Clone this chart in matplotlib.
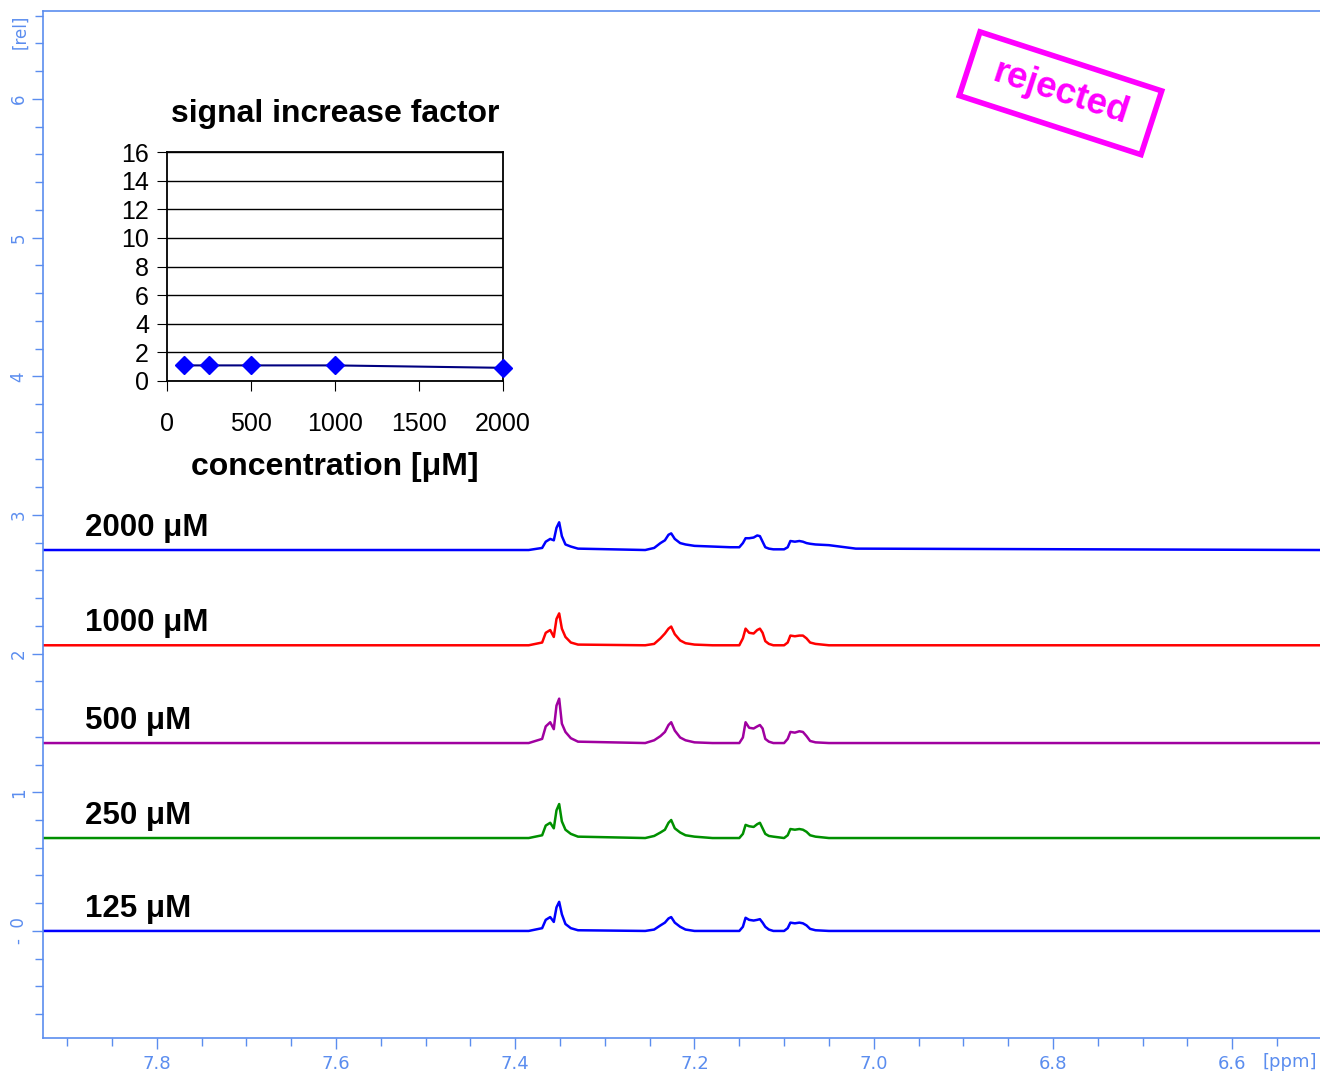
import numpy as np
import matplotlib.pyplot as plt
from matplotlib.patches import Rectangle
from matplotlib.transforms import IdentityTransform
from matplotlib.ticker import MultipleLocator

plt.rcParams['font.family'] = ['Liberation Sans', 'DejaVu Sans']

# --- data ---

# chemical shift grid (ppm), shared by all spectra
ppm = [7.927, 7.385,
       7.370, 7.366, 7.361, 7.357, 7.354, 7.351, 7.348, 7.344, 7.338, 7.330,
       7.255, 7.245, 7.238, 7.233, 7.229, 7.226, 7.222, 7.216, 7.210, 7.200,
       7.180, 7.160,
       7.150, 7.146, 7.143, 7.139, 7.134, 7.130, 7.127, 7.124, 7.121, 7.117, 7.112,
       7.100, 7.096, 7.093, 7.088, 7.083, 7.079, 7.075, 7.071, 7.065, 7.050,
       7.020, 6.502]

# intensities above each baseline
int_125 = [0, 0,
           0.02, 0.08, 0.10, 0.065, 0.17, 0.21, 0.12, 0.05, 0.02, 0.005,
           0, 0.01, 0.04, 0.06, 0.09, 0.10, 0.06, 0.03, 0.01, 0,
           0, 0,
           0, 0.03, 0.095, 0.08, 0.075, 0.08, 0.085, 0.06, 0.03, 0.01, 0,
           0, 0.02, 0.06, 0.055, 0.06, 0.055, 0.04, 0.015, 0.005, 0,
           0, 0]
int_250 = [0, 0,
           0.02, 0.09, 0.11, 0.07, 0.20, 0.245, 0.12, 0.06, 0.03, 0.01,
           0, 0.015, 0.04, 0.06, 0.11, 0.13, 0.07, 0.04, 0.02, 0.01,
           0, 0,
           0, 0.03, 0.095, 0.085, 0.08, 0.10, 0.11, 0.07, 0.03, 0.015, 0.01,
           0, 0.02, 0.065, 0.06, 0.065, 0.06, 0.045, 0.02, 0.01, 0,
           0, 0]
int_500 = [0, 0,
           0.03, 0.12, 0.15, 0.10, 0.27, 0.32, 0.14, 0.08, 0.035, 0.01,
           0, 0.02, 0.05, 0.08, 0.13, 0.15, 0.09, 0.04, 0.02, 0.005,
           0, 0,
           0, 0.04, 0.15, 0.11, 0.105, 0.12, 0.13, 0.105, 0.03, 0.01, 0,
           0, 0.03, 0.08, 0.075, 0.085, 0.08, 0.05, 0.015, 0.005, 0,
           0, 0]
int_1000 = [0, 0,
            0.02, 0.09, 0.11, 0.06, 0.19, 0.23, 0.12, 0.06, 0.02, 0.005,
            0, 0.01, 0.05, 0.085, 0.12, 0.135, 0.08, 0.035, 0.015, 0.005,
            0, 0,
            0, 0.05, 0.12, 0.09, 0.085, 0.11, 0.12, 0.09, 0.03, 0.01, 0,
            0, 0.02, 0.07, 0.065, 0.07, 0.07, 0.05, 0.02, 0.01, 0,
            0, 0]
int_2000 = [0, 0,
            0.015, 0.06, 0.08, 0.07, 0.16, 0.20, 0.10, 0.04, 0.025, 0.01,
            0, 0.015, 0.05, 0.07, 0.11, 0.12, 0.08, 0.05, 0.04, 0.03,
            0.025, 0.02,
            0.02, 0.05, 0.085, 0.085, 0.09, 0.105, 0.10, 0.06, 0.02, 0.01, 0.005,
            0.005, 0.02, 0.065, 0.06, 0.065, 0.06, 0.05, 0.045, 0.04, 0.035,
            0.01, 0]

baselines = [0.0, 0.67, 1.355, 2.06, 2.747]
spec_labels = ['125 μM', '250 μM', '500 μM', '1000 μM', '2000 μM']
spec_colors = ['#0000ff', '#009000', '#a000a0', '#ff0000', '#0000ff']

ytick_vals = [0, 1, 2, 3, 4, 5, 6]
ytick_labels = ['-  0', '1', '2', '3', '4', '5', '6']

# inset: signal increase factor vs concentration
conc = [100, 250, 500, 1000, 2000]
factor = [1.09, 1.09, 1.09, 1.09, 0.92]

axis_blue = '#5b8def'

fig = plt.figure(figsize=(13.2, 10.72), dpi=100)

# main spectrum axes
ax = fig.add_axes([43 / 1320, 34 / 1072, 1 - 43 / 1320, 1027 / 1072])

for vals, off, col, lab in zip([int_125, int_250, int_500, int_1000, int_2000],
                               baselines, spec_colors, spec_labels):
    ax.plot(ppm, np.array(vals) + off, color=col, lw=1.8)
    ax.text(7.88, off + 0.16, lab, fontsize=22.5, fontweight='bold',
            va='center', ha='left')

ax.set_xlim(7.927, 6.502)
ax.set_ylim(-0.772, 6.634)

ax.spines['right'].set_visible(False)
for s in ['left', 'top', 'bottom']:
    ax.spines[s].set_color(axis_blue)
    ax.spines[s].set_linewidth(1.2)

ax.xaxis.set_major_locator(MultipleLocator(0.2))
ax.xaxis.set_minor_locator(MultipleLocator(0.05))
ax.set_yticks(ytick_vals)
ax.set_yticklabels(ytick_labels, rotation=90, va='center')
ax.yaxis.set_minor_locator(MultipleLocator(0.2))

ax.tick_params(which='both', colors=axis_blue, direction='out')
ax.tick_params(which='major', length=8, width=1)
ax.tick_params(which='minor', length=6, width=1)
ax.tick_params(axis='x', labelsize=13, pad=4)
ax.tick_params(axis='y', labelsize=12, pad=3)
for t in ax.get_xticklabels() + ax.get_yticklabels():
    t.set_family('DejaVu Sans')

fig.text(20 / 1320, 1 - 32 / 1072, '[rel]', rotation=90, color=axis_blue,
         fontsize=12, ha='center', va='center', family='DejaVu Sans')
fig.text(1290 / 1320, 1 - 1062 / 1072, '[ppm]', color=axis_blue,
         fontsize=13, ha='center', va='center', family='DejaVu Sans')

# inset chart
ins = fig.add_axes([167 / 1320, 691 / 1072, 336 / 1320, 229 / 1072])
ins.plot(conc, factor, color='#000080', lw=1.5, marker='D', ms=9,
         mfc='#0000ff', mec='#0000ff', clip_on=False, zorder=3)
ins.set_xlim(0, 2000)
ins.set_ylim(0, 16)
ins.set_yticks(range(0, 17, 2))
ins.set_xticks(range(0, 2001, 500))
ins.grid(axis='y', color='black', lw=1)
for s in ins.spines.values():
    s.set_color('black')
    s.set_linewidth(1.3)
ins.tick_params(labelsize=18, length=7, color='black', direction='out')
ins.tick_params(axis='x', pad=15)
ins.tick_params(axis='y', pad=6)
ins.set_title('signal increase factor', fontsize=23, fontweight='bold', pad=21.5)
ins.set_xlabel('concentration [μM]', fontsize=23, fontweight='bold', labelpad=12)

# stamp: rotated box and text, in pixel coordinates
stamp_c = (1060.5, 1072 - 93.25)
fig.patches.append(Rectangle((stamp_c[0] - 95.5, stamp_c[1] - 33.5), 191, 67,
                             angle=-18, rotation_point='center', fill=False,
                             ec='#ff00ff', lw=4, transform=IdentityTransform(),
                             figure=fig))
fig.text(stamp_c[0], stamp_c[1], 'rejected', transform=IdentityTransform(),
         rotation=-18, rotation_mode='anchor', ha='center', va='center',
         fontsize=26.5, fontweight='bold', color='#ff00ff')

fig.savefig('out.png', dpi=100)
